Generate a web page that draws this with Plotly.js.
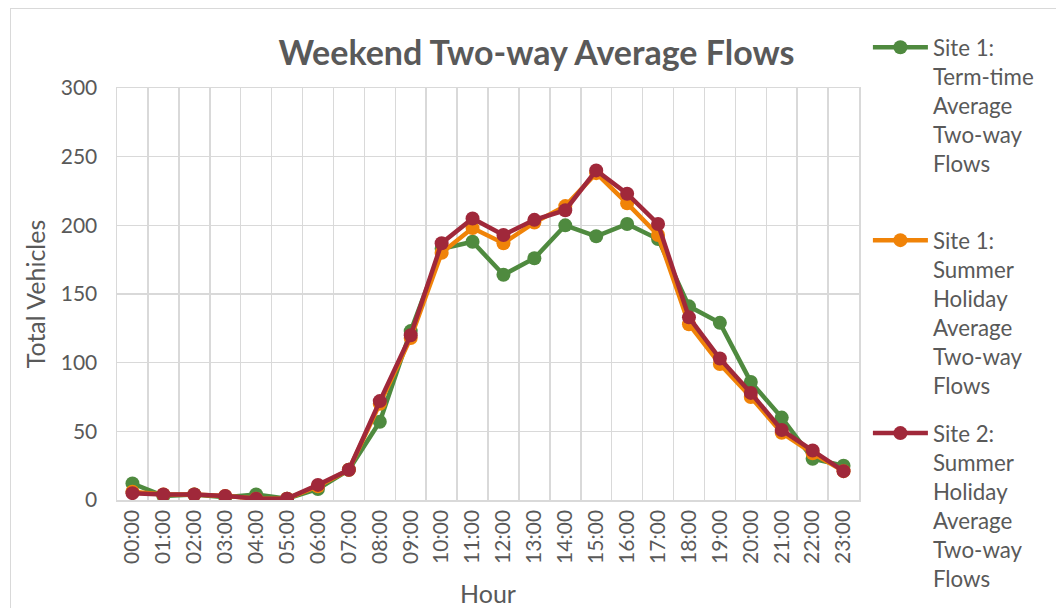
<!DOCTYPE html>
<html>
<head>
<meta charset="utf-8">
<script src="https://cdn.plot.ly/plotly-3.0.1.min.js"></script>
<style>
  html, body { margin: 0; padding: 0; background: #ffffff; overflow: hidden; width: 1056px; height: 608px; }
  #frame { position: absolute; left: 10px; top: 8px; width: 1200px; height: 800px; border: 1px solid #d9d9d9; box-sizing: border-box; }
  #chart { position: absolute; left: 0; top: 0; width: 1056px; height: 608px; }
</style>
</head>
<body>
<div id="frame"></div>
<div id="chart"></div>
<script>
const hours = ["00:00","01:00","02:00","03:00","04:00","05:00","06:00","07:00","08:00","09:00","10:00","11:00",
               "12:00","13:00","14:00","15:00","16:00","17:00","18:00","19:00","20:00","21:00","22:00","23:00"];
const site1Term   = [12, 3, 4, 2, 4, 1, 8, 22, 57, 123, 183, 188, 164, 176, 200, 192, 201, 190, 141, 129, 86, 60, 30, 25];
const site1Summer = [6, 4, 4, 3, 1, 1, 10, 22, 70, 118, 180, 198, 187, 202, 214, 238, 216, 193, 128, 99, 75, 49, 34, 21];
const site2Summer = [5, 4, 4, 3, 1, 1, 11, 22, 72, 120, 187, 205, 193, 204, 211, 240, 223, 201, 133, 103, 78, 51, 36, 21];
const seriesNames = [
  "Site 1:<br>Term-time<br>Average<br>Two-way<br>Flows<br> ",
  "Site 1:<br>Summer<br>Holiday<br>Average<br>Two-way<br>Flows",
  "Site 2:<br>Summer<br>Holiday<br>Average<br>Two-way<br>Flows"
];
const colors = ["#4f8a3f", "#f08308", "#a0283a"];

const FONT = "Lato, 'Open Sans', sans-serif";
const TXT = "#595959";

const series = [site1Term, site1Summer, site2Summer];
const traces = series.map((vals, i) => ({
  type: "scatter",
  mode: "lines+markers",
  x: hours,
  y: vals,
  name: seriesNames[i],
  legendgroup: "g" + i,
  line: { color: colors[i], width: 4.5 },
  marker: { color: colors[i], size: 14 }
}));

const layout = {
  width: 1056,
  height: 608,
  margin: { l: 117, r: 197, t: 88, b: 108 },
  paper_bgcolor: "rgba(0,0,0,0)",
  plot_bgcolor: "rgba(0,0,0,0)",
  font: { family: FONT, color: TXT, size: 21 },
  title: {
    text: "<b>Weekend Two-way Average Flows</b>",
    font: { family: FONT, size: 34, color: TXT },
    x: 0.508, xanchor: "center",
    y: 0.912, yanchor: "middle"
  },
  xaxis: {
    type: "category",
    range: [-0.5, 23.5],
    tickson: "boundaries",
    ticks: "",
    showgrid: true,
    gridcolor: "#d9d9d9",
    gridwidth: 1.5,
    showline: true,
    mirror: true,
    linecolor: "#d9d9d9",
    linewidth: 1.5,
    tickangle: -90,
    tickfont: { family: FONT, size: 21, color: TXT },
    title: { text: "Hour", font: { family: FONT, size: 25, color: TXT }, standoff: 22 }
  },
  yaxis: {
    range: [0, 300],
    dtick: 50,
    ticks: "",
    showgrid: true,
    gridcolor: "#d9d9d9",
    gridwidth: 1.5,
    zeroline: false,
    showline: true,
    mirror: true,
    linecolor: "#d9d9d9",
    linewidth: 1.5,
    ticklabelstandoff: 14,
    tickfont: { family: FONT, size: 21, color: TXT },
    title: { text: "Total Vehicles", font: { family: FONT, size: 25, color: TXT }, standoff: 8 }
  },
  showlegend: true,
  legend: {
    x: 1.012, xanchor: "left",
    y: 1.15, yanchor: "top",
    valign: "top",
    tracegroupgap: 16,
    itemwidth: 55,
    maxheight: 1000,
    font: { family: FONT, size: 22.3, color: TXT },
    bgcolor: "rgba(0,0,0,0)"
  }
};

Plotly.newPlot("chart", traces, layout, { displayModeBar: false, staticPlot: true });
</script>
</body>
</html>
